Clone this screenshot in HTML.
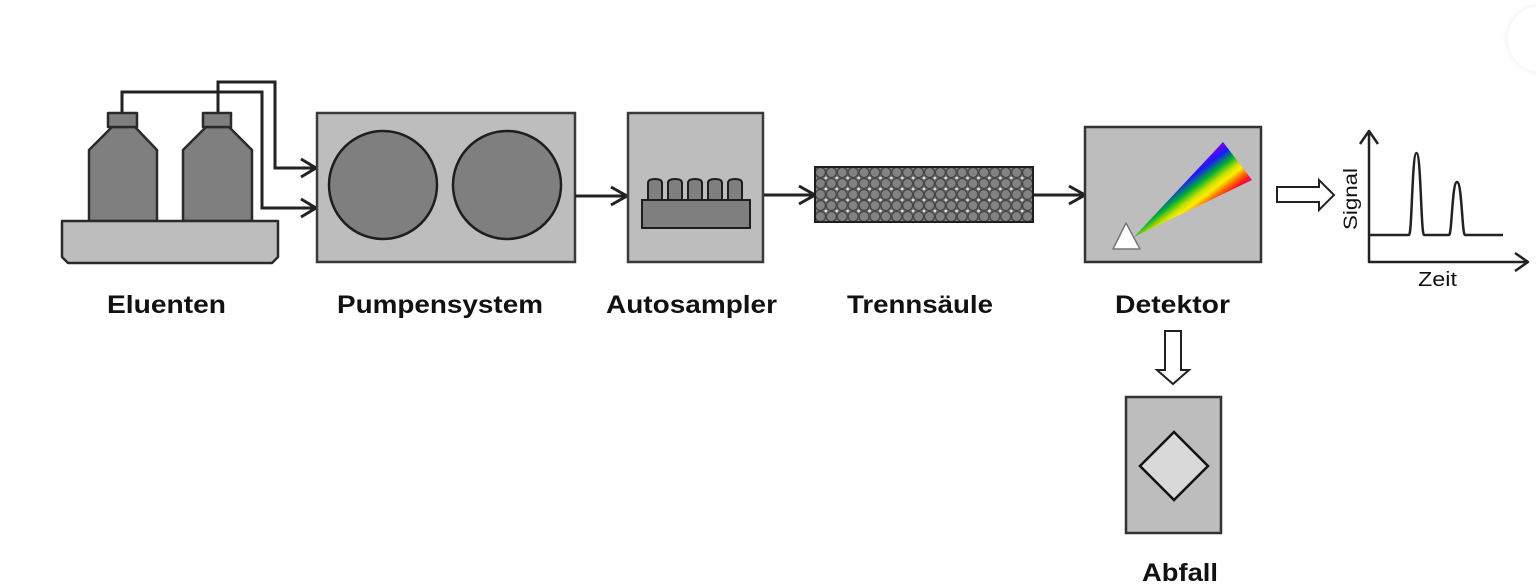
<!DOCTYPE html>
<html>
<head>
<meta charset="utf-8">
<style>
html,body{margin:0;padding:0;background:#fff;}
body{width:1536px;height:588px;overflow:hidden;position:relative;}
svg{position:absolute;left:0;top:0;}
.c{position:absolute;left:1508px;top:6px;width:66px;height:66px;border-radius:50%;background:#fff;box-shadow:0 0 8px rgba(0,0,0,0.08);}
</style>
</head>
<body>
<div class="c"></div>
<svg width="1536" height="588" viewBox="0 0 1536 588" xmlns="http://www.w3.org/2000/svg">
<defs>
  <pattern id="beads" x="815" y="167" width="10.9" height="11" patternUnits="userSpaceOnUse">
    <rect width="10.9" height="11" fill="#666"/>
    <circle cx="5.45" cy="5.5" r="4.9" fill="#828282" stroke="#3a3a3a" stroke-width="0.9"/>
    <circle cx="0" cy="0" r="1.4" fill="#e0e0e0"/>
    <circle cx="10.9" cy="0" r="1.4" fill="#e0e0e0"/>
    <circle cx="0" cy="11" r="1.4" fill="#e0e0e0"/>
    <circle cx="10.9" cy="11" r="1.4" fill="#e0e0e0"/>
  </pattern>
  <linearGradient id="rb" gradientUnits="userSpaceOnUse" x1="1223" y1="142" x2="1252" y2="180">
    <stop offset="0" stop-color="#7a00e0"/>
    <stop offset="0.18" stop-color="#1a1aff"/>
    <stop offset="0.38" stop-color="#00b030"/>
    <stop offset="0.55" stop-color="#c8e000"/>
    <stop offset="0.66" stop-color="#ffee00"/>
    <stop offset="0.8" stop-color="#ff6a00"/>
    <stop offset="0.92" stop-color="#ff1020"/>
    <stop offset="1" stop-color="#e00090"/>
  </linearGradient>
</defs>

<!-- Eluenten: tubes -->
<g fill="none" stroke="#222" stroke-width="3" stroke-linejoin="miter">
  <polyline points="122,113 122,92 262,92 262,208 315,208"/>
  <polyline points="218,113 218,82 275,82 275,168 315,168"/>
  <polyline points="301,159 316,168 301,177" stroke-width="3"/>
  <polyline points="301,199 316,208 301,217" stroke-width="3"/>
</g>

<!-- Bottles -->
<g fill="#7f7f7f" stroke="#2a2a2a" stroke-width="2.5" stroke-linejoin="round">
  <polygon points="89,221 89,150 112,127 135,127 157,150 157,221"/>
  <rect x="108" y="113" width="29" height="14"/>
  <polygon points="183,221 183,150 206,127 229,127 252,150 252,221"/>
  <rect x="203" y="113" width="28" height="14"/>
</g>
<!-- Tray -->
<polygon points="62,221 278,221 278,257 272,263 68,263 62,257" fill="#bdbdbd" stroke="#2a2a2a" stroke-width="2.5" stroke-linejoin="round"/>

<!-- Pump system -->
<rect x="317" y="113" width="258" height="149" fill="#bdbdbd" stroke="#3a3a3a" stroke-width="2.5"/>
<circle cx="383" cy="185" r="54" fill="#7f7f7f" stroke="#1e1e1e" stroke-width="2.5"/>
<circle cx="507" cy="185" r="54" fill="#7f7f7f" stroke="#1e1e1e" stroke-width="2.5"/>

<!-- Connector arrows -->
<g fill="none" stroke="#222" stroke-width="3">
  <line x1="575" y1="196" x2="626" y2="196"/>
  <polyline points="611,187 627,196 611,205"/>
  <line x1="763" y1="195" x2="814" y2="195"/>
  <polyline points="799,186 815,195 799,204"/>
  <line x1="1033" y1="195" x2="1084" y2="195"/>
  <polyline points="1069,186 1085,195 1069,204"/>
</g>

<!-- Autosampler -->
<rect x="628" y="113" width="135" height="149" fill="#bdbdbd" stroke="#3a3a3a" stroke-width="2.5"/>
<g fill="#7f7f7f" stroke="#1e1e1e" stroke-width="2">
  <path d="M648,200 V183 Q648,179 655,179 Q662,179 662,183 V200 Z"/>
  <path d="M668,200 V183 Q668,179 675,179 Q682,179 682,183 V200 Z"/>
  <path d="M688,200 V183 Q688,179 695,179 Q702,179 702,183 V200 Z"/>
  <path d="M708,200 V183 Q708,179 715,179 Q722,179 722,183 V200 Z"/>
  <path d="M728,200 V183 Q728,179 735,179 Q742,179 742,183 V200 Z"/>
  <rect x="642" y="200" width="108" height="28"/>
</g>

<!-- Column -->
<rect x="815" y="167" width="218" height="55" fill="url(#beads)" stroke="#1e1e1e" stroke-width="2"/>

<!-- Detector -->
<rect x="1085" y="127" width="176" height="135" fill="#bdbdbd" stroke="#333" stroke-width="2.5"/>
<polygon points="1134,237 1223,142 1252,180" fill="url(#rb)"/>
<polygon points="1113,249 1140,249 1126,223" fill="#fff" stroke="#777" stroke-width="1.5" stroke-linejoin="round"/>

<!-- Hollow arrow right -->
<polygon points="1277,187 1319,187 1319,180 1334,195 1319,210 1319,202 1277,202" fill="#fff" stroke="#222" stroke-width="2" stroke-linejoin="miter"/>

<!-- Chromatogram -->
<g fill="none" stroke="#222" stroke-width="2.5" stroke-linejoin="round">
  <polyline points="1369,131 1369,262 1527,262"/>
  <polyline points="1360,144 1369,131 1378,144"/>
  <polyline points="1515,253 1528,262 1515,271"/>
  <path d="M1369,235 H1409 C1412,235 1412,153 1416.5,153 C1421,153 1421,235 1424,235 H1449 C1452,235 1452,182 1457,182 C1462,182 1462,235 1465,235 H1503"/>
</g>
<text x="0" y="0" transform="translate(1357,230) rotate(-90)" font-family="Liberation Sans, Arial, sans-serif" font-size="19" fill="#111" textLength="62" lengthAdjust="spacingAndGlyphs">Signal</text>
<text x="1418" y="286" font-family="Liberation Sans, Arial, sans-serif" font-size="20" fill="#111" textLength="39" lengthAdjust="spacingAndGlyphs">Zeit</text>

<!-- Hollow arrow down -->
<polygon points="1165,331 1181,331 1181,370 1189,370 1173,384 1157,370 1165,370" fill="#fff" stroke="#222" stroke-width="2" stroke-linejoin="miter"/>

<!-- Abfall -->
<rect x="1126" y="397" width="95" height="136" fill="#bdbdbd" stroke="#333" stroke-width="2.5"/>
<polygon points="1174,432 1208,466 1174,500 1140,466" fill="#d9d9d9" stroke="#111" stroke-width="2.5"/>

<!-- Labels -->
<g font-family="Liberation Sans, Arial, sans-serif" font-weight="bold" font-size="25" fill="#111">
  <text x="107" y="313" textLength="119" lengthAdjust="spacingAndGlyphs">Eluenten</text>
  <text x="337" y="313" textLength="206" lengthAdjust="spacingAndGlyphs">Pumpensystem</text>
  <text x="606" y="313" textLength="171" lengthAdjust="spacingAndGlyphs">Autosampler</text>
  <text x="847" y="313" textLength="146" lengthAdjust="spacingAndGlyphs">Trennsäule</text>
  <text x="1115" y="313" textLength="115" lengthAdjust="spacingAndGlyphs">Detektor</text>
  <text x="1142" y="581" textLength="76" lengthAdjust="spacingAndGlyphs">Abfall</text>
</g>
</svg>
</body>
</html>
